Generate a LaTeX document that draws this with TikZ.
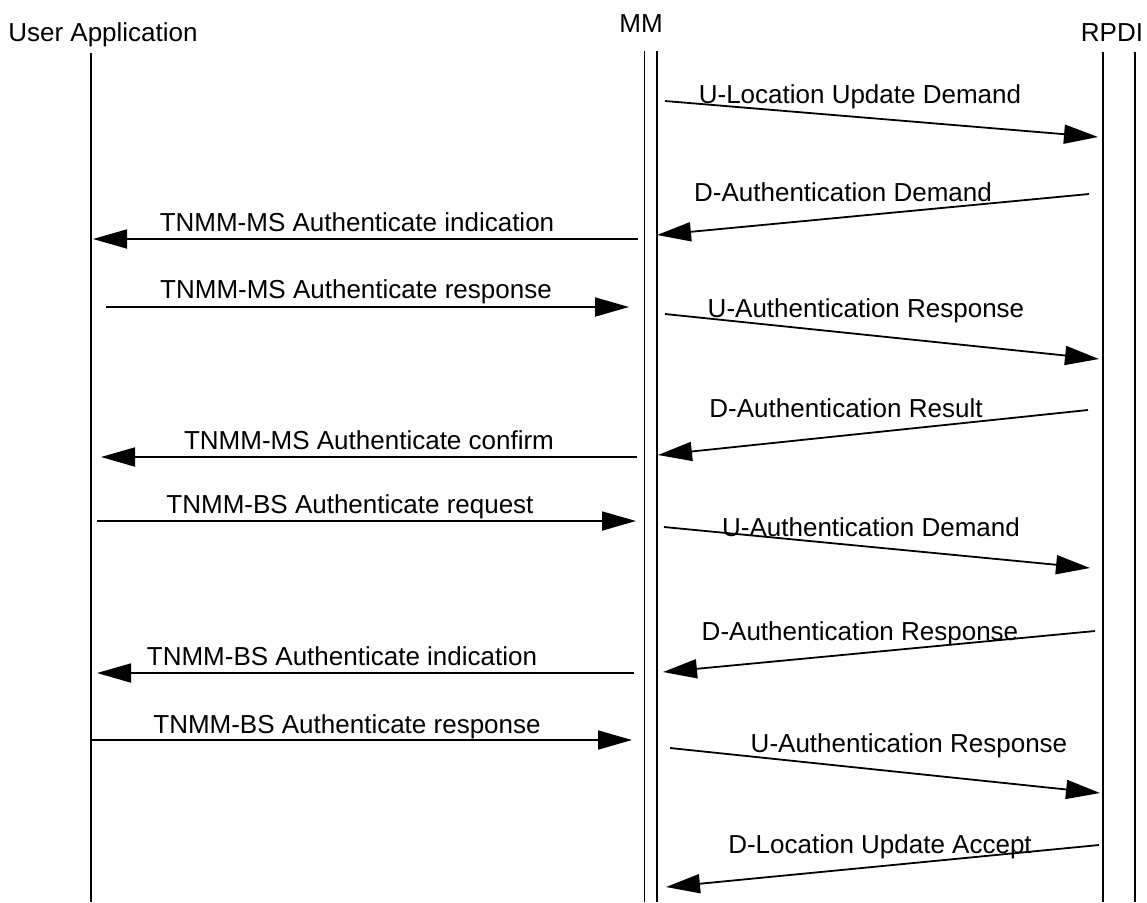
\documentclass[tikz,border=0pt]{standalone}
\usepackage{fontspec}
\setmainfont{Liberation Sans}
\usetikzlibrary{arrows.meta}
\begin{document}
\begin{tikzpicture}[x=0.5pt,y=-0.5pt,
  lifeline/.style={line width=0.9pt},
  msg/.style={line width=0.9pt,-{Triangle[length=17pt,width=9.5pt]}},
  lbl/.style={anchor=base,inner sep=0pt,font=\fontsize{13}{15}\selectfont},
  hdr/.style={anchor=base,inner sep=0pt,font=\fontsize{13}{15}\selectfont}]
\useasboundingbox (0,0) rectangle (1147,902);
% headers
\node[hdr] (hUA) at (103,41) {User Application};
\node[hdr] (hMM) at (641,32) {MM};
\node[hdr] (hRP) at (1112,41) {RPDI};
% lifelines
\coordinate (uaT) at (91,53);   \coordinate (uaB) at (91,902);
\coordinate (mmAT) at (644.5,51); \coordinate (mmAB) at (644.5,902);
\coordinate (mmBT) at (657,51); \coordinate (mmBB) at (657,902);
\coordinate (rpAT) at (1103,52); \coordinate (rpAB) at (1103,902);
\coordinate (rpBT) at (1135,52); \coordinate (rpBB) at (1135,902);
\draw[lifeline] (uaT) -- (uaB);
\draw[lifeline] (mmAT) -- (mmAB);
\draw[lifeline] (mmBT) -- (mmBB);
\draw[lifeline] (rpAT) -- (rpAB);
\draw[lifeline] (rpBT) -- (rpBB);
% messages
\coordinate (m1s) at (665,101);  \coordinate (m1e) at (1098,137);
\coordinate (m2s) at (1089,194); \coordinate (m2e) at (657,235);
\coordinate (m3s) at (638,239);  \coordinate (m3e) at (93,239);
\coordinate (m4s) at (106,307);  \coordinate (m4e) at (629,307);
\coordinate (m5s) at (665,314);  \coordinate (m5e) at (1099,359);
\coordinate (m6s) at (1088,410); \coordinate (m6e) at (658,455);
\coordinate (m7s) at (637,457);  \coordinate (m7e) at (101,457);
\coordinate (m8s) at (97,521);   \coordinate (m8e) at (636,521);
\coordinate (m9s) at (664,527);  \coordinate (m9e) at (1090,568);
\coordinate (m10s) at (1095,631); \coordinate (m10e) at (663,672);
\coordinate (m11s) at (634,673); \coordinate (m11e) at (97,673);
\coordinate (m12s) at (91,740);  \coordinate (m12e) at (632,740);
\coordinate (m13s) at (670,748); \coordinate (m13e) at (1100,793);
\coordinate (m14s) at (1099,845); \coordinate (m14e) at (666,887);
\foreach \i in {1,...,14} {\draw[msg] (m\i s) -- (m\i e);}
% labels
\node[lbl] (l1) at (860,103) {U-Location Update Demand};
\node[lbl] (l2) at (843,201) {D-Authentication Demand};
\node[lbl] (l3) at (357,231) {TNMM-MS Authenticate indication};
\node[lbl] (l4) at (356,298) {TNMM-MS Authenticate response};
\node[lbl] (l5) at (866,317) {U-Authentication Response};
\node[lbl] (l6) at (846,417) {D-Authentication Result};
\node[lbl] (l7) at (369,449) {TNMM-MS Authenticate confirm};
\node[lbl] (l8) at (350,513) {TNMM-BS Authenticate request};
\node[lbl] (l9) at (871,536) {U-Authentication Demand};
\node[lbl] (l10) at (860,640) {D-Authentication Response};
\node[lbl] (l11) at (342,665) {TNMM-BS Authenticate indication};
\node[lbl] (l12) at (347,733) {TNMM-BS Authenticate response};
\node[lbl] (l13) at (909,752) {U-Authentication Response};
\node[lbl] (l14) at (880,853) {D-Location Update Accept};
\end{tikzpicture}
\end{document}
